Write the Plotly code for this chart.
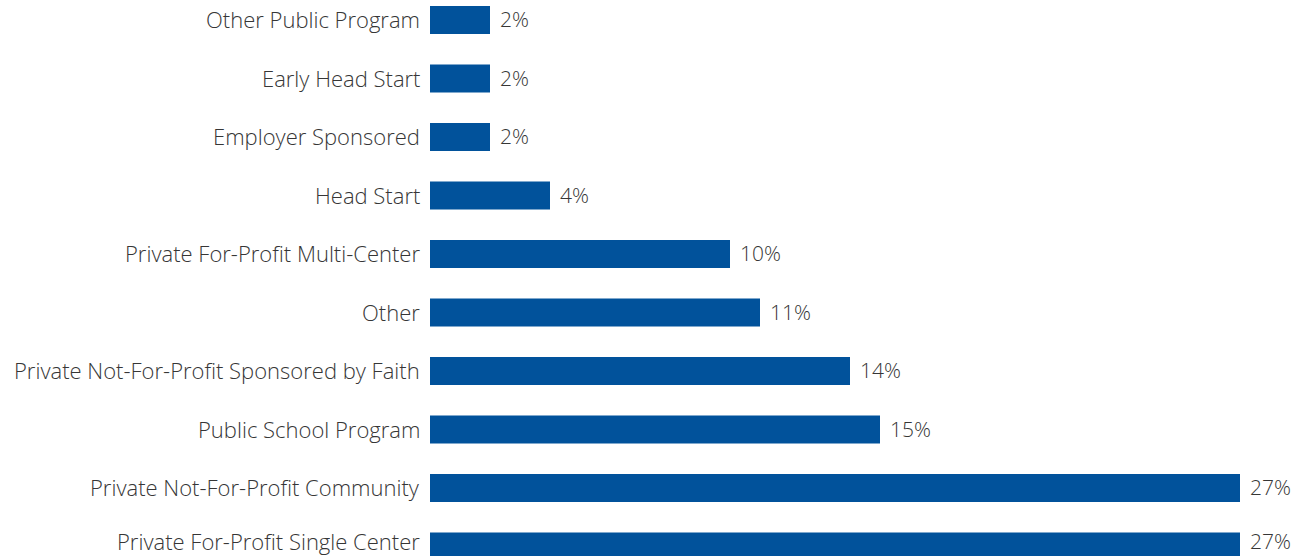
import plotly.graph_objects as go

# Program types, listed bottom to top
categories = [
    "Private For-Profit Single Center",
    "Private Not-For-Profit Community",
    "Public School Program",
    "Private Not-For-Profit Sponsored by Faith",
    "Other",
    "Private For-Profit Multi-Center",
    "Head Start",
    "Employer Sponsored",
    "Early Head Start",
    "Other Public Program",
]
shares = [27, 27, 15, 14, 11, 10, 4, 2, 2, 2]

BAR_COLOR = "#01529B"
TEXT_COLOR = "#363636"
FONT = "Open Sans"

fig = go.Figure(
    go.Bar(
        x=shares,
        y=categories,
        orientation="h",
        marker=dict(color=BAR_COLOR, line=dict(width=0)),
        width=0.48,
        hoverinfo="skip",
    )
)

# Category names to the left of the bars and value labels to the right;
# the lowest row is nudged up so its text stays inside the figure.
for i, (cat, val) in enumerate(zip(categories, shares)):
    lift = 6 if i == 0 else 1
    fig.add_annotation(
        x=0, xref="paper", y=cat, text=cat, showarrow=False,
        xanchor="right", yanchor="middle", xshift=-8, yshift=lift,
        font=dict(family=FONT, size=22, color=TEXT_COLOR, weight=300),
    )
    fig.add_annotation(
        x=val, y=cat, text=f"{val}%", showarrow=False,
        xanchor="left", yanchor="middle", xshift=8, yshift=lift,
        font=dict(family=FONT, size=21, color=TEXT_COLOR, weight=300),
    )

fig.update_layout(
    width=1301, height=556,
    margin=dict(l=430, r=0, t=0, b=0, autoexpand=False),
    paper_bgcolor="white", plot_bgcolor="white",
    showlegend=False,
    font=dict(family=FONT, size=20, color=TEXT_COLOR),
    xaxis=dict(range=[0, 871 / 30], visible=False, fixedrange=True,
               automargin=False),
    yaxis=dict(
        range=[-0.162, 9.342], showgrid=False, zeroline=False,
        showline=False, ticks="", showticklabels=False, automargin=False,
        fixedrange=True,
    ),
)

fig.write_html("out.html")
